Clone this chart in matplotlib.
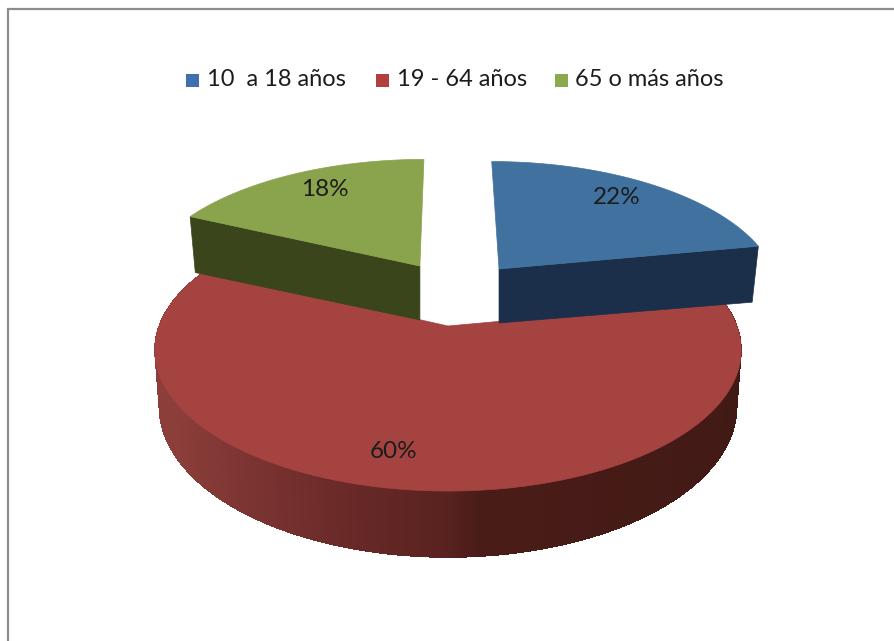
from __future__ import annotations

import matplotlib

matplotlib.use("Agg")

import matplotlib.pyplot as plt
import numpy as np
from matplotlib.patches import Polygon, Rectangle


CATEGORIES = ["10  a 18 años", "19 - 64 años", "65 o más años"]
VALUES = [22, 60, 18]

TOP_COLORS = ["#41719f", "#a54341", "#8aa34d"]
SWATCH_COLORS = ["#3f70ad", "#b03f3d", "#8aaa4c"]
WALL_COLORS = ["#1b2f4b", None, "#3a451c"]

# apex shift of each slice on the pie plane, and its radius along x / y
EXPLODE = [(0.19, 0.448), (0.0, 0.0), (-0.105, 0.473)]
RADIUS = [(1.02, 1.06), (1.0, 1.0), (1.025, 1.06)]

LEGEND_SWATCH_X = [186, 376, 555]
LEGEND_TEXT_X = [207, 397, 575]
LABEL_POS = [(617, 198), (394, 452), (325, 190)]

# pie geometry, in pixels of the picture
CX, CY = 448, 326
A, B, K = 289, 137, 0.17
DEPTH = 55
BOTTOM_SHRINK = 0.985
WALL_SHRINK = 0.98

FONT = "Lato"
TEXT_COLOR = "#1c1c1c"
FRAME_COLOR = "#8c8c8c"


def project(x: np.ndarray, y: np.ndarray) -> tuple[np.ndarray, np.ndarray, np.ndarray]:
    """Perspective of a point of the pie plane; y > 0 is towards the back."""
    w = 1 + K * y
    return CX + A * x / w, CY - B * y / w, w


def slice_outline(i: int, start: float, stop: float, n: int = 120):
    thetas = np.radians(np.linspace(start, stop, n))
    ex, ey = EXPLODE[i]
    rx, ry = RADIUS[i]
    return project(ex + rx * np.sin(thetas), ey + ry * np.cos(thetas))


def draw_rim_wall(ax, i: int, start: float, stop: float) -> None:
    """Outer wall of the big slice, shaded from left to right."""
    px, py, w = slice_outline(i, start, stop, 400)
    shade_x = [173, 240, 340, 440, 480, 740]
    shade_r = [0x8c, 0x7d, 0x6a, 0x5a, 0x4a, 0x42]
    shade_g = [0x3e, 0x35, 0x2a, 0x23, 0x1c, 0x1a]
    shade_b = [0x3a, 0x33, 0x28, 0x20, 0x18, 0x15]
    bx = CX + (px - CX) * BOTTOM_SHRINK
    by = py + DEPTH / w
    # plain wall shape first so no light seams show between the shaded strips
    outline = np.r_[np.column_stack([px, py]), np.column_stack([bx, by])[::-1]]
    ax.add_patch(Polygon(outline, facecolor="#5a2320", edgecolor="none"))
    for j in range(len(px) - 1):
        mid = (px[j] + px[j + 1]) / 2
        color = (
            np.interp(mid, shade_x, shade_r) / 255,
            np.interp(mid, shade_x, shade_g) / 255,
            np.interp(mid, shade_x, shade_b) / 255,
        )
        quad = [(px[j], py[j]), (px[j + 1], py[j + 1]), (bx[j + 1], by[j + 1]), (bx[j], by[j])]
        ax.add_patch(Polygon(quad, facecolor=color, edgecolor="none", antialiased=False))


def draw_cut_wall(ax, i: int, angle: float) -> None:
    """Flat wall from the apex of an exploded slice to its rim."""
    ex, ey = EXPLODE[i]
    px, py, _ = slice_outline(i, angle, angle, 2)
    ax0, ay0, _ = project(np.array([ex]), np.array([ey]))
    quad = [
        (ax0[0], ay0[0]),
        (px[0], py[0]),
        (CX + (px[0] - CX) * WALL_SHRINK, py[0] + DEPTH + 1),
        (ax0[0], ay0[0] + DEPTH - 1),
    ]
    ax.add_patch(Polygon(quad, facecolor=WALL_COLORS[i], edgecolor=WALL_COLORS[i], lw=0.5))


def draw_top(ax, i: int, start: float, stop: float) -> None:
    ex, ey = EXPLODE[i]
    px, py, _ = slice_outline(i, start, stop)
    ax0, ay0, _ = project(np.array([ex]), np.array([ey]))
    pts = np.column_stack([np.r_[ax0, px], np.r_[ay0, py]])
    ax.add_patch(Polygon(pts, facecolor=TOP_COLORS[i], edgecolor=TOP_COLORS[i], lw=0.5))


def main() -> None:
    fig = plt.figure(figsize=(8.94, 6.41), dpi=100, facecolor="white")
    ax = fig.add_axes([0, 0, 1, 1])
    ax.set_xlim(0, 894)
    ax.set_ylim(641, 0)
    ax.axis("off")

    # frame of the chart, open on the right and at the bottom
    ax.plot([8, 8, 894], [641, 9, 9], color=FRAME_COLOR, lw=1.6, solid_joinstyle="miter")

    stops = np.cumsum([0] + VALUES) * 3.6
    blue, red, green = 0, 1, 2

    # big slice first, the exploded ones sit on top of it
    draw_rim_wall(ax, red, stops[1], stops[2])
    draw_top(ax, red, stops[1], stops[2])

    draw_cut_wall(ax, blue, stops[1])
    draw_top(ax, blue, stops[0], stops[1])

    draw_cut_wall(ax, green, stops[2])
    draw_top(ax, green, stops[2], stops[3])

    for value, (x, y) in zip(VALUES, LABEL_POS):
        ax.text(x, y, f"{value}%", ha="center", va="center", fontsize=17.5,
                family=FONT, color=TEXT_COLOR)

    for name, color, sx, tx in zip(CATEGORIES, SWATCH_COLORS, LEGEND_SWATCH_X, LEGEND_TEXT_X):
        ax.add_patch(Rectangle((sx, 74), 13, 13, facecolor=color, edgecolor="none"))
        ax.text(tx, 80, name, ha="left", va="center", fontsize=17,
                family=FONT, color=TEXT_COLOR)

    fig.savefig("out.png", dpi=100)
    plt.close(fig)


if __name__ == "__main__":
    main()
